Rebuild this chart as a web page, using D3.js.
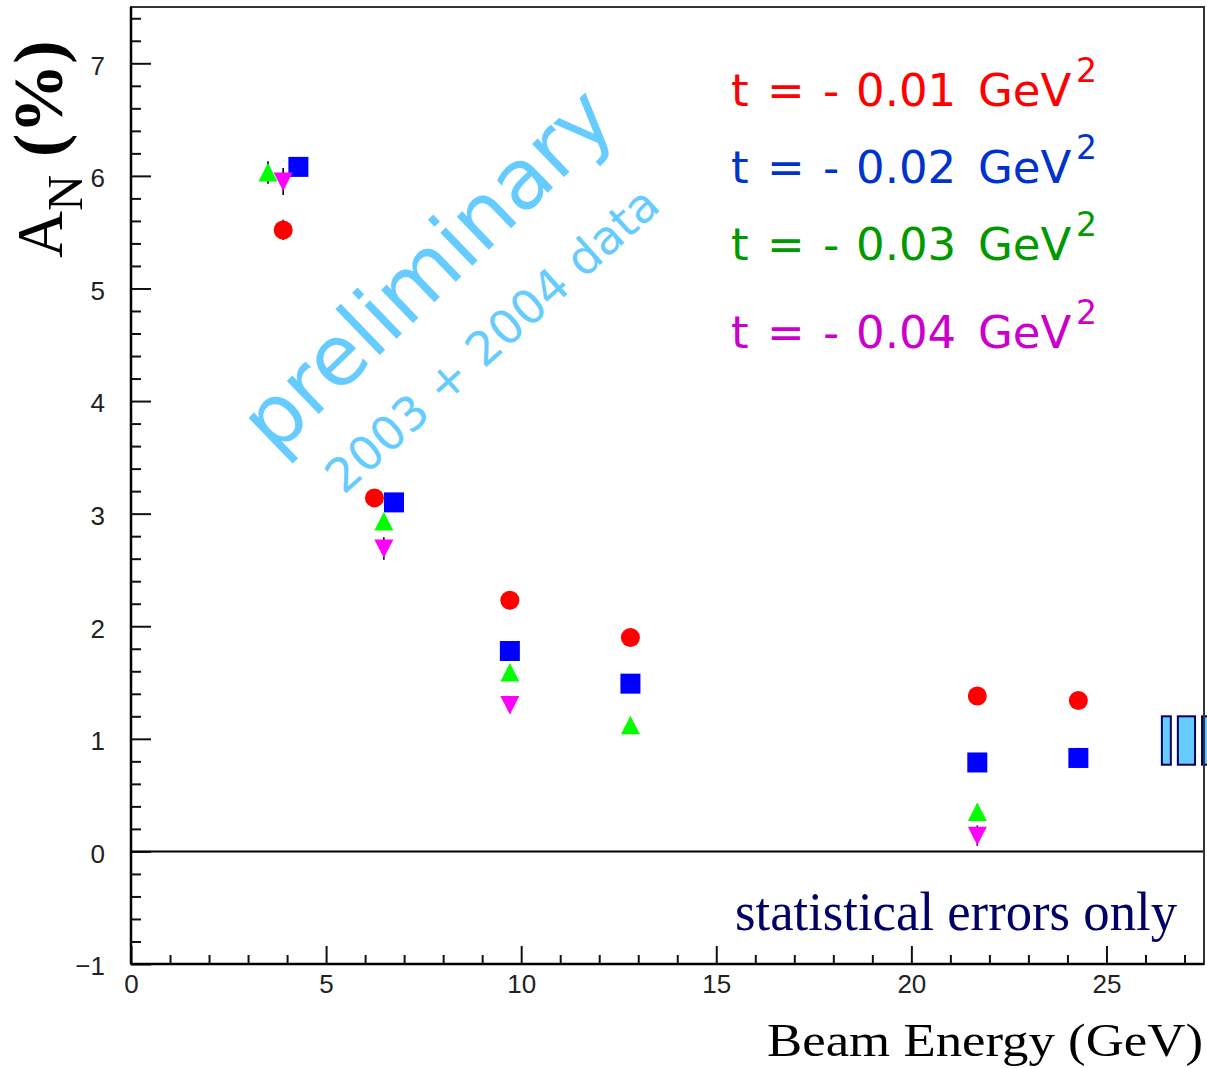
<!DOCTYPE html>
<html>
<head>
<meta charset="utf-8">
<script src="https://cdn.jsdelivr.net/npm/d3@7/dist/d3.min.js"></script>
<style>
  body { margin: 0; background: #fff; }
  svg { display: block; }
</style>
</head>
<body>
<svg id="svg" width="1207" height="1068"></svg>
<script>
// data (beam energy in GeV, A_N in %)
const tValues = ["0.01", "0.02", "0.03", "0.04"];

const redX   = [3.9, 6.24, 9.71, 12.8, 21.69, 24.28];
const redY   = [5.52, 3.14, 2.23, 1.90, 1.38, 1.34];
const redErr = [0.09, 0.07, 0.06, 0.06, 0.07, 0.07];

const blueX   = [4.29, 6.74, 9.71, 12.8, 21.69, 24.28];
const blueY   = [6.08, 3.10, 1.78, 1.49, 0.79, 0.83];
const blueErr = [0.06, 0.07, 0.06, 0.06, 0.07, 0.09];

const greenX   = [3.51, 6.48, 9.71, 12.8, 21.69];
const greenY   = [6.03, 2.93, 1.59, 1.12, 0.35];
const greenErr = [0.10, 0.07, 0.06, 0.06, 0.07];

const magX   = [3.9, 6.48, 9.71, 21.69];
const magY   = [5.95, 2.69, 1.30, 0.14];
const magErr = [0.12, 0.10, 0.07, 0.09];

// light blue boxes at the right edge
const boxX0 = [26.42, 26.83, 27.45];
const boxX1 = [26.65, 27.27, 27.62];
const boxY0 = [0.77, 0.77, 0.77];
const boxY1 = [1.20, 1.20, 1.20];

const xMajor = [0, 5, 10, 15, 20, 25];
const yMajor = [-1, 0, 1, 2, 3, 4, 5, 6, 7];

const svg = d3.select("#svg");
const plotL = 131, plotR = 1204, plotT = 7, plotB = 964;

const x = d3.scaleLinear().domain([0, 27.5]).range([plotL, plotR]);
const y = d3.scaleLinear().domain([-1, 7.5]).range([plotB, plotT]);

// watermark
const wm = svg.append("g").attr("fill", "#66ccff")
  .style("font-family", "'DejaVu Sans', Verdana, sans-serif");
wm.append("text")
  .attr("transform", "translate(447,290) rotate(-44)")
  .attr("text-anchor", "middle")
  .style("font-size", "84px")
  .text("preliminary");
wm.append("text")
  .attr("transform", "translate(503,352) rotate(-42)")
  .attr("text-anchor", "middle")
  .style("font-size", "47px")
  .text("2003 + 2004 data");

// axes (ticks inward)
const tickFont = "'Liberation Sans', Arial, sans-serif";
function styleAxis(sel) {
  sel.select(".domain").remove();
  sel.selectAll(".tick line").attr("stroke", "#111").attr("stroke-width", 2);
  sel.selectAll(".tick text").attr("fill", "#222")
    .style("font-family", tickFont).style("font-size", "26px");
}
const yMinor = d3.range(-1, 7.5001, 0.2).map(v => +v.toFixed(1))
  .filter(v => Math.abs(v - Math.round(v)) > 1e-6);
const xMinor = d3.range(0, 28, 1).filter(v => v % 5 !== 0);

svg.append("g").attr("transform", `translate(${plotL},0)`)
  .call(d3.axisLeft(y).tickValues(yMinor).tickSize(-10).tickFormat(""))
  .call(styleAxis);
svg.append("g").attr("transform", `translate(${plotL},0)`)
  .call(d3.axisLeft(y).tickValues(yMajor).tickSize(-20).tickPadding(26)
    .tickFormat(d => d < 0 ? "\u2212" + Math.abs(d) : d))
  .call(styleAxis)
  .selectAll(".tick text").attr("dy", "0.42em");
svg.append("g").attr("transform", `translate(0,${plotB})`)
  .call(d3.axisBottom(x).tickValues(xMinor).tickSize(-9).tickFormat(""))
  .call(styleAxis);
svg.append("g").attr("transform", `translate(0,${plotB})`)
  .call(d3.axisBottom(x).tickValues(xMajor).tickSize(-18).tickPadding(11))
  .call(styleAxis);

// zero line
svg.append("line")
  .attr("x1", x(0)).attr("x2", x(27.5))
  .attr("y1", y(0)).attr("y2", y(0))
  .attr("stroke", "#000").attr("stroke-width", 2);

// series
const series = [
  { xs: redX, ys: redY, es: redErr, shape: "circle", color: "#ff0000" },
  { xs: blueX, ys: blueY, es: blueErr, shape: "square", color: "#0000ff" },
  { xs: greenX, ys: greenY, es: greenErr, shape: "up", color: "#00ff00" },
  { xs: magX, ys: magY, es: magErr, shape: "down", color: "#ff00ff" }
];

function markerPath(shape) {
  if (shape === "square") return "M-10,-10H10V10H-10Z";
  if (shape === "up") return "M0,-9.5L9.5,9L-9.5,9Z";
  if (shape === "down") return "M0,9.5L9.5,-9L-9.5,-9Z";
  return d3.symbol(d3.symbolCircle, Math.PI * 9.5 * 9.5)();
}

series.forEach(s => {
  const pts = s.xs.map((v, i) => ({ x: v, y: s.ys[i], e: s.es[i] }));
  const g = svg.append("g");
  g.selectAll("line").data(pts).join("line")
    .attr("x1", d => x(d.x)).attr("x2", d => x(d.x))
    .attr("y1", d => y(d.y - d.e)).attr("y2", d => y(d.y + d.e))
    .attr("stroke", "#000").attr("stroke-width", 1.6);
  g.selectAll("path").data(pts).join("path")
    .attr("transform", d => `translate(${x(d.x)},${y(d.y)})`)
    .attr("d", markerPath(s.shape))
    .attr("fill", s.color);
});

// boxes at right edge
svg.append("g").selectAll("rect").data(boxX0.map((v, i) => i)).join("rect")
  .attr("x", i => x(boxX0[i]))
  .attr("width", i => x(boxX1[i]) - x(boxX0[i]))
  .attr("y", i => y(boxY1[i]))
  .attr("height", i => y(boxY0[i]) - y(boxY1[i]))
  .attr("fill", "#66ccff").attr("stroke", "#000066").attr("stroke-width", 2);

// frame
svg.append("rect")
  .attr("x", plotL).attr("y", plotT)
  .attr("width", plotR - plotL).attr("height", plotB - plotT)
  .attr("fill", "none").attr("stroke", "#333").attr("stroke-width", 2);
svg.append("line").attr("x1", plotL).attr("x2", plotL).attr("y1", plotT).attr("y2", plotB)
  .attr("stroke", "#000").attr("stroke-width", 2.5);
svg.append("line").attr("x1", plotL).attr("x2", plotR).attr("y1", plotB).attr("y2", plotB)
  .attr("stroke", "#000").attr("stroke-width", 2.5);

// legend
const legendColors = ["#ff0000", "#0033cc", "#009900", "#cc00cc"];
const legendBase = [106, 183, 260, 348];
const lg = svg.append("g").style("font-family", "'DejaVu Sans', Tahoma, sans-serif");
tValues.forEach((t, i) => {
  const tokens = [["t", 731], ["=", 767], ["-", 823], [t, 856], ["GeV", 978]];
  const txt = lg.append("text").attr("y", legendBase[i])
    .attr("fill", legendColors[i]).style("font-size", "45px");
  tokens.forEach(([s, px]) => txt.append("tspan").attr("x", px).text(s));
  lg.append("text").attr("x", 1076).attr("y", legendBase[i] - 24)
    .attr("fill", legendColors[i]).style("font-size", "33px").text("2");
});

// note
svg.append("text")
  .attr("x", 735).attr("y", 930)
  .attr("textLength", 442).attr("lengthAdjust", "spacingAndGlyphs")
  .attr("fill", "#000066")
  .style("font-family", "'Liberation Serif', 'Times New Roman', serif")
  .style("font-size", "54px")
  .text("statistical errors only");

// x label
svg.append("text")
  .attr("x", 767).attr("y", 1056)
  .attr("textLength", 436).attr("lengthAdjust", "spacingAndGlyphs")
  .attr("fill", "#000")
  .style("font-family", "'Liberation Serif', 'Times New Roman', serif")
  .style("font-size", "46px")
  .text("Beam Energy (GeV)");

// y label
const yl = svg.append("text")
  .attr("transform", "translate(62,258) rotate(-90)")
  .attr("fill", "#000")
  .style("font-family", "'Liberation Serif', 'Times New Roman', serif");
yl.append("tspan").style("font-size", "65px").text("A");
yl.append("tspan").attr("dy", 20).style("font-size", "50px").text("N");
yl.append("tspan").attr("dy", -20).attr("dx", 18).style("font-size", "70px")
  .style("font-weight", "bold").text("(%)");
</script>
</body>
</html>
